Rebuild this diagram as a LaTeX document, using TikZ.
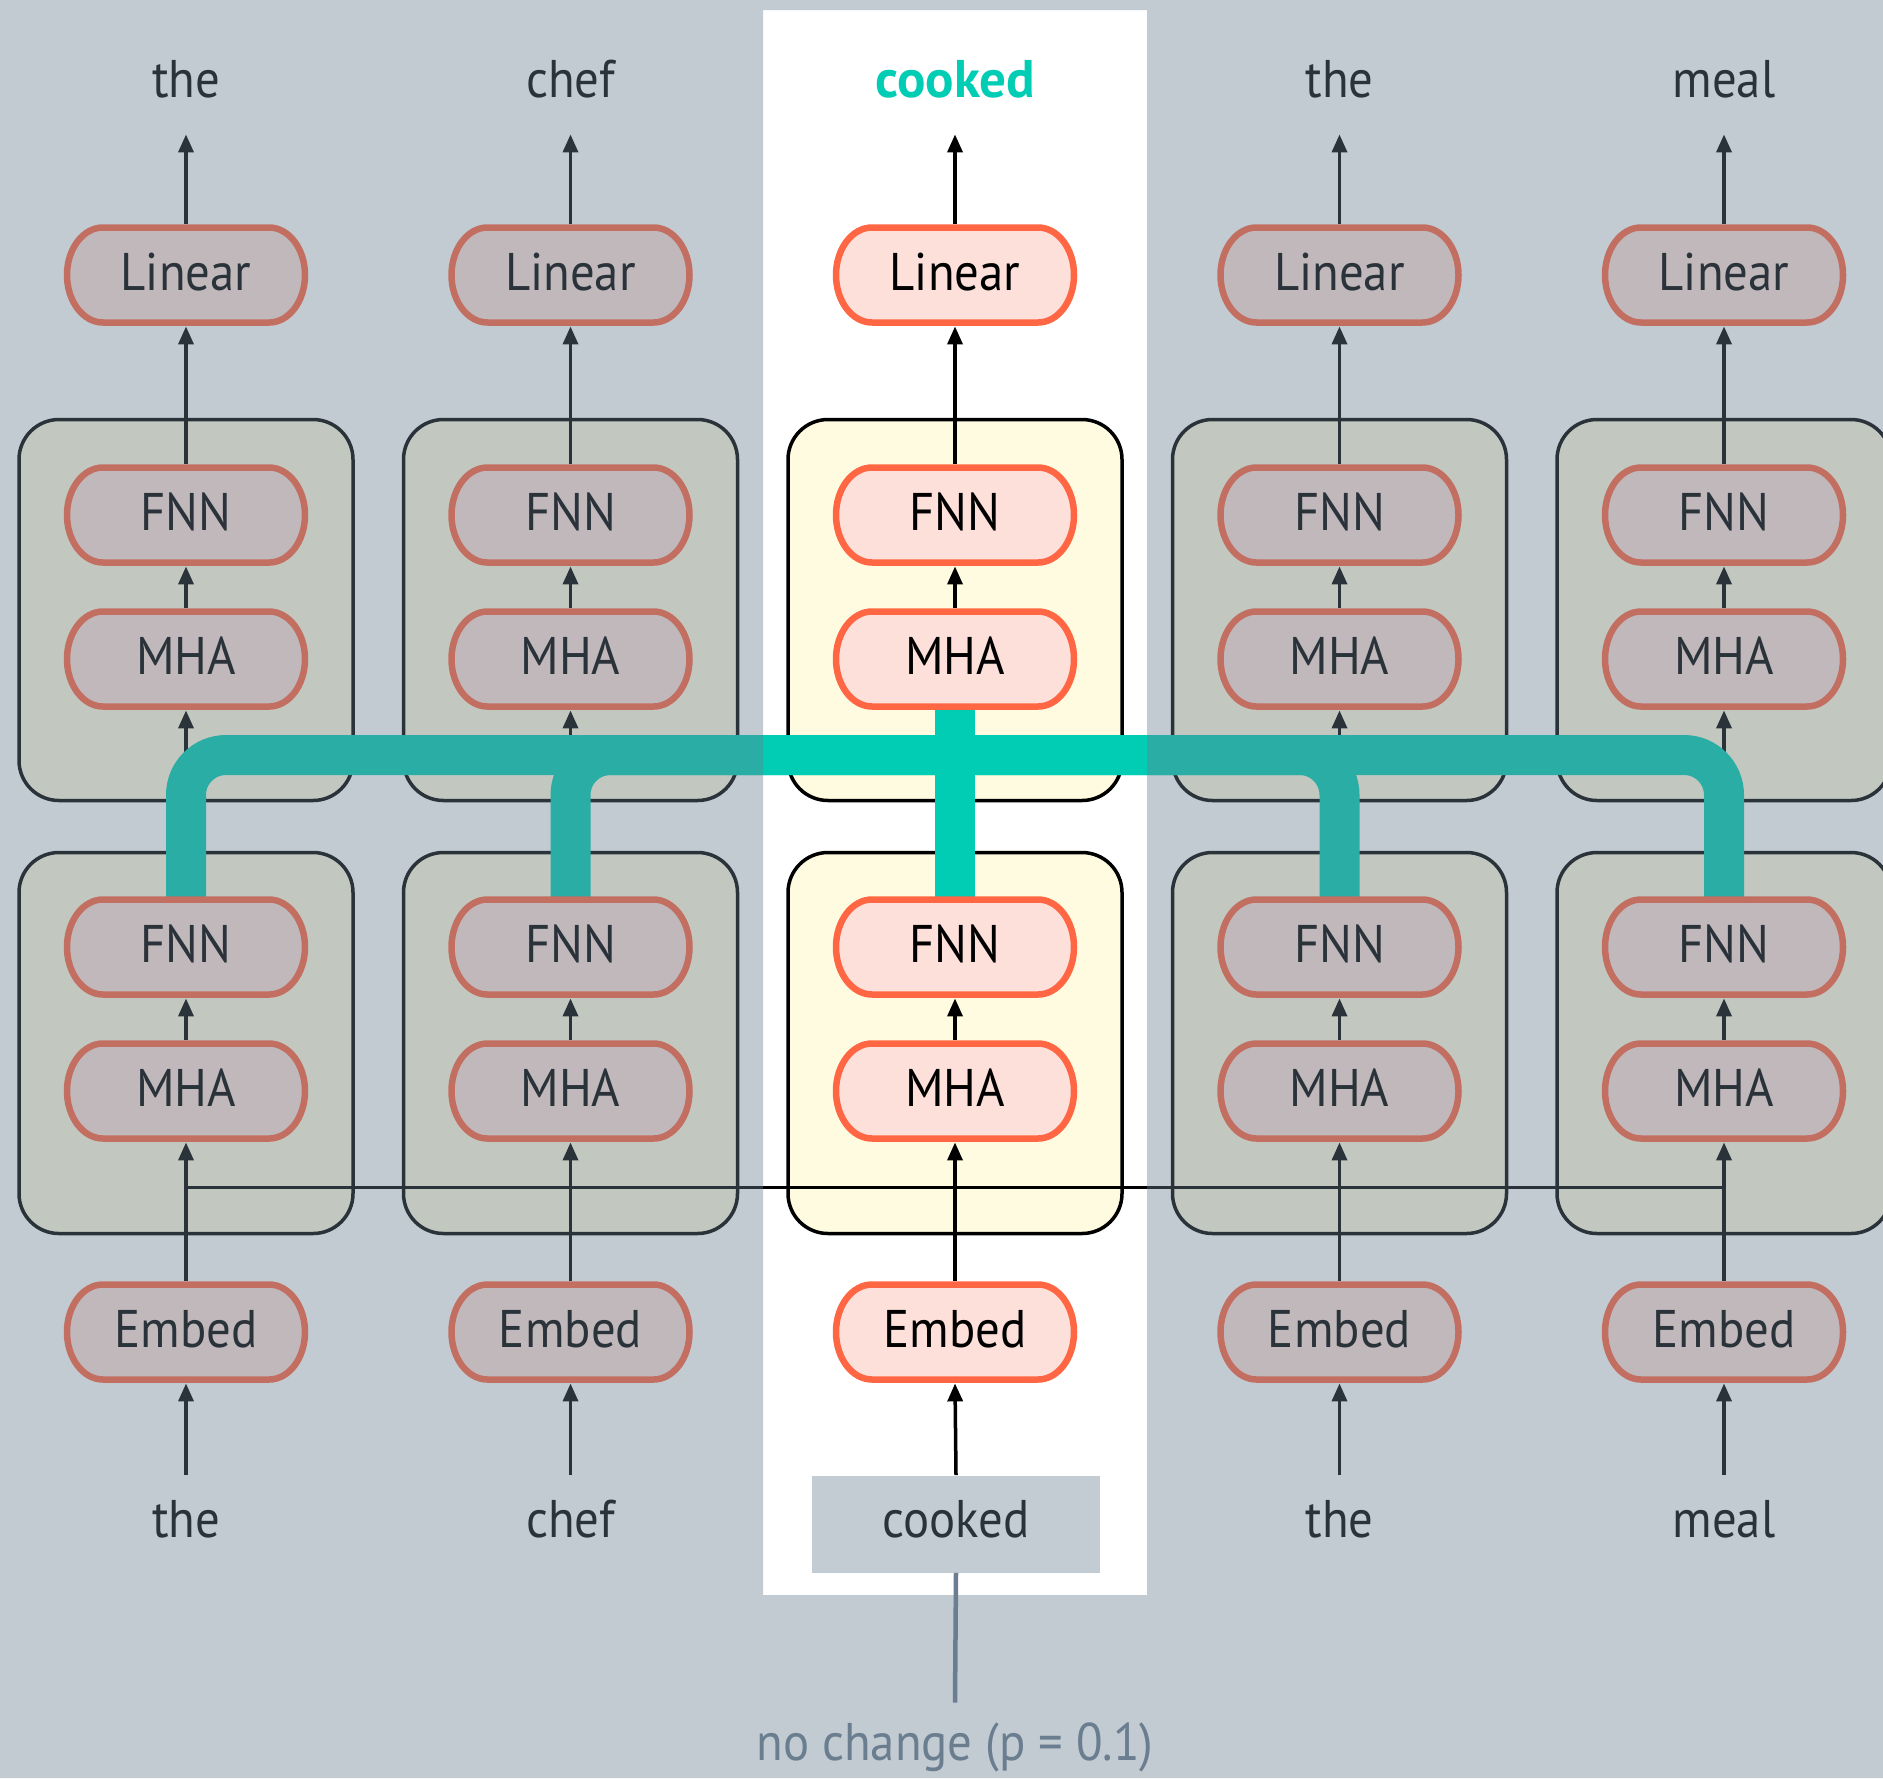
\documentclass[tikz,border=0pt]{standalone}
\usepackage{fontspec}
\setmainfont{PT Sans}[FakeStretch=0.92]
\newfontfamily\headfont{PT Sans}
\usetikzlibrary{arrows.meta}

\definecolor{pillfill}{HTML}{FDE0DA}
\definecolor{pillline}{HTML}{FF6644}
\definecolor{blockfill}{HTML}{FFFBE0}
\definecolor{tealc}{HTML}{00CDB4}
\definecolor{veilc}{HTML}{6A7E90}
\definecolor{graybox}{HTML}{C3CBD3}
\definecolor{dimtext}{HTML}{2B333A}

\pgfdeclarelayer{base}
\pgfdeclarelayer{links}
\pgfdeclarelayer{flow}
\pgfdeclarelayer{shapes}
\pgfdeclarelayer{veil}
\pgfdeclarelayer{front}
\pgfsetlayers{base,links,flow,shapes,main,veil,front}

% pill outline around a named node
\newcommand{\pillat}[1]{%
  \filldraw[pillshape, shift={(#1.center)}]
    (-83,-47.5) -- (83,-47.5)
    arc[start angle=90, end angle=-90, x radius=18pt, y radius=23.75pt]
    -- (-83,47.5)
    arc[start angle=270, end angle=90, x radius=18pt, y radius=23.75pt]
    -- cycle;}

\begin{document}
\begin{tikzpicture}[x=0.5pt, y=-0.5pt,
  font=\fontsize{26.5pt}{32pt}\selectfont,
  pilltext/.style={inner sep=0pt, minimum width=122.5pt, minimum height=51pt,
    text height=15pt, text depth=0pt},
  pillshape/.style={fill=pillfill, draw=pillline, line width=3.25pt},
  blockbox/.style={draw=black, fill=blockfill, line width=1.75pt,
    rounded corners=20pt, inner sep=0pt, minimum width=167pt, minimum height=190.5pt},
  arr/.style={draw=black, line width=1.75pt, -{Triangle[length=9pt,width=7.5pt]}},
  topword/.style={inner sep=0pt, text height=13.5pt, text depth=0pt,
    minimum height=50pt, minimum width=100pt},
  botword/.style={inner sep=0pt, text height=13.5pt, text depth=0pt,
    minimum height=48.5pt, minimum width=144pt},
  tealline/.style={draw=tealc, line width=20pt, rounded corners=20pt},
]
\useasboundingbox (0,0) rectangle (1883,1778);

\begin{pgfonlayer}{base}
  \fill[white] (0,0) rectangle (1883,1778);
\end{pgfonlayer}

% the five token columns
\foreach \i/\x in {1/186,2/570.5,3/955,4/1339.5,5/1724}{
  \node[pilltext] (L\i)  at (\x,275)  {Linear};
  \node[pilltext] (UF\i) at (\x,515)  {FNN};
  \node[pilltext] (UM\i) at (\x,659)  {MHA};
  \node[pilltext] (LF\i) at (\x,947)  {FNN};
  \node[pilltext] (LM\i) at (\x,1091) {MHA};
  \node[pilltext] (E\i)  at (\x,1332) {Embed};
  \begin{pgfonlayer}{base}
    \node[blockbox] (UB\i) at (\x,610) {};
    \node[blockbox] (LB\i) at (\x,1043) {};
  \end{pgfonlayer}
  \begin{pgfonlayer}{shapes}
    \pillat{L\i} \pillat{UF\i} \pillat{UM\i}
    \pillat{LF\i} \pillat{LM\i} \pillat{E\i}
  \end{pgfonlayer}
}

% input and output words
\node[topword] (T1) at (186,84) {the};
\node[topword] (T2) at (570.5,84) {chef};
\node[topword, text=tealc, font=\fontsize{26.5pt}{32pt}\selectfont\headfont\bfseries] (T3) at (955,84) {cooked};
\node[topword] (T4) at (1339.5,84) {the};
\node[topword] (T5) at (1724,84) {meal};

\node[botword] (B1) at (186,1524) {the};
\node[botword] (B2) at (570.5,1524) {chef};
\node[botword, fill=graybox, text=dimtext] (B3) at (956,1524) {cooked};
\node[botword] (B4) at (1339.5,1524) {the};
\node[botword] (B5) at (1724,1524) {meal};

\coordinate (hl) at (0,1187);
\coordinate (hub) at (955,755);

\begin{pgfonlayer}{links}
  \foreach \i in {1,...,5}{
    \draw[arr] (L\i.north) -- (T\i.south);
    \draw[arr] (UF\i.north) -- (L\i.south);
    \draw[arr] (UM\i.north) -- (UF\i.south);
    \draw[arr] (LF\i.north) -- (UM\i.south);
    \draw[arr] (LM\i.north) -- (LF\i.south);
    \draw[arr] (E\i.north) -- (LM\i.south);
    \draw[arr] (B\i.north) -- (E\i.south);
  }
  \draw[black, line width=1.5pt] (E1.north |- hl) -- (E5.north |- hl);
\end{pgfonlayer}

% residual streams gathered into the middle position
\begin{pgfonlayer}{flow}
  \draw[tealline] (LF1.center) |- (hub);
  \draw[tealline] (LF2.center) |- (hub);
  \draw[tealline] (LF5.center) |- (hub);
  \draw[tealline] (LF4.center) |- (hub);
  \draw[tealline] (LF3.center) -- (UM3.center);
\end{pgfonlayer}

% dim everything but the middle column
\begin{pgfonlayer}{veil}
  \fill[veilc, fill opacity=0.404, even odd rule]
    (0,0) rectangle (1883,1778) (763,10) rectangle (1147,1595);
\end{pgfonlayer}

\begin{pgfonlayer}{front}
  \node[anchor=base, text=veilc, inner sep=0pt, inner ysep=9.5pt,
    text height=19pt, text depth=5pt] (NC) at (955,1760) {no change (p = 0.1)};
  \draw[veilc, line width=2.25pt] (B3.south) -- (NC.north);
\end{pgfonlayer}
\end{tikzpicture}
\end{document}
